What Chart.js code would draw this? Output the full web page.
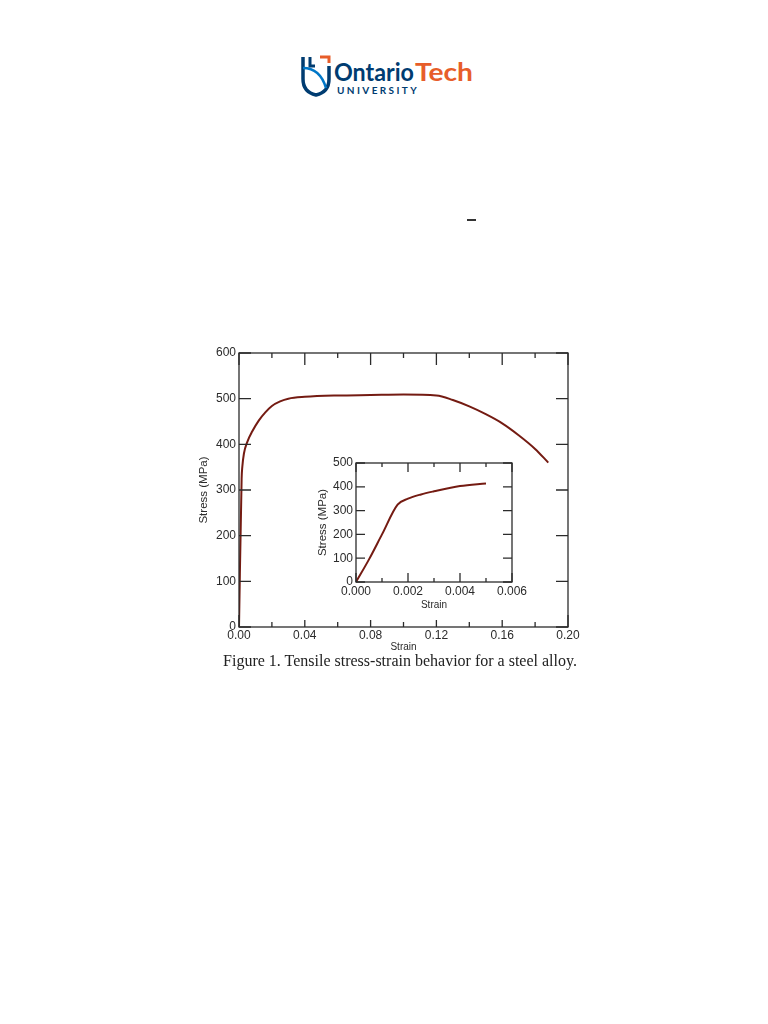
<!DOCTYPE html>
<html>
<head>
<meta charset="utf-8">
<script src="https://cdn.jsdelivr.net/npm/chart.js@4"></script>
<style>
  body { margin: 0; width: 768px; height: 1024px; background: #fff; position: relative; overflow: hidden; }
  .abs { position: absolute; }
  #logo { left: 300px; top: 54px; width: 180px; height: 44px; }
  #dash { left: 467px; top: 219px; width: 9px; height: 2px; background: #333; }
  #main { left: 190px; top: 340px; width: 400px; height: 320px; }
  #inset { left: 300px; top: 450px; width: 230px; height: 170px; background: #fff; }
  #caption { left: 16px; width: 768px; top: 652px; text-align: center;
    font-family: "Liberation Serif", serif; font-size: 16px; color: #222; }
</style>
</head>
<body>
<svg id="logo" class="abs" viewBox="0 0 180 44">
  <path d="M3 3 V25 Q3 38 16 41 Q29 38 29 25 V12" fill="none" stroke="#003c71" stroke-width="3.5"/>
  <path d="M3 14 Q20 14 26 34" fill="none" stroke="#0077c8" stroke-width="2.5"/>
  <path d="M10 3 V12 H15" fill="none" stroke="#003c71" stroke-width="3"/>
  <path d="M20 3 H29 V9" fill="none" stroke="#e75d2a" stroke-width="3"/>
  <text x="34" y="27" font-family="Lato, 'Open Sans', sans-serif" font-weight="bold" font-size="24" fill="#003c71" textLength="80" lengthAdjust="spacingAndGlyphs">Ontario</text>
  <text x="115" y="27" font-family="Lato, 'Open Sans', sans-serif" font-weight="bold" font-size="24" fill="#e75d2a" textLength="58" lengthAdjust="spacingAndGlyphs">Tech</text>
  <text x="37" y="40" font-family="Lato, 'Open Sans', sans-serif" font-weight="bold" font-size="10" fill="#003c71" letter-spacing="2.4">UNIVERSITY</text>
</svg>
<div id="dash" class="abs"></div>
<div class="abs" id="main"><canvas id="mainChart" width="400" height="320"></canvas></div>
<div class="abs" id="inset"><canvas id="insetChart" width="230" height="170"></canvas></div>
<div id="caption" class="abs">Figure 1. Tensile stress-strain behavior for a steel alloy.</div>

<script>
// main curve (strain, stress in MPa)
const mainStrain = [0, 0.0016, 0.002, 0.003, 0.005, 0.008, 0.012, 0.016, 0.02, 0.025, 0.03, 0.04, 0.06, 0.08, 0.10, 0.12, 0.13, 0.14, 0.15, 0.16, 0.17, 0.18, 0.188];
const mainStress = [0, 325, 350, 380, 405, 428, 452, 470, 484, 494, 500, 504, 507, 508, 509, 507, 497, 483, 466, 446, 420, 390, 360];
// inset curve
const insetStrain = [0, 0.0005, 0.001, 0.0016, 0.002, 0.0025, 0.003, 0.004, 0.005];
const insetStress = [0, 95, 200, 325, 350, 368, 381, 403, 414];
// tick labels shown
const mainXLabels = ["0.00", "0.04", "0.08", "0.12", "0.16", "0.20"];
const mainYLabels = ["0", "100", "200", "300", "400", "500", "600"];
const insetXLabels = ["0.000", "0.002", "0.004", "0.006"];
const insetYLabels = ["0", "100", "200", "300", "400", "500"];

const ink = "#2b2b2b";
const lineColor = "#741b12";
const fam = "Liberation Sans, Arial, sans-serif";

// frame + inward ticks on all four sides
const frameTicks = {
  id: "frameTicks",
  afterDraw(chart, args, opts) {
    const { ctx, chartArea: a, scales } = chart;
    ctx.save();
    ctx.strokeStyle = ink;
    ctx.lineWidth = 1.3;
    ctx.strokeRect(a.left, a.top, a.right - a.left, a.bottom - a.top);
    scales.x.ticks.forEach(t => {
      const px = scales.x.getPixelForValue(t.value);
      const len = t.label !== "" ? opts.long : opts.short;
      ctx.beginPath();
      ctx.moveTo(px, a.bottom); ctx.lineTo(px, a.bottom - len);
      ctx.moveTo(px, a.top); ctx.lineTo(px, a.top + len);
      ctx.stroke();
    });
    scales.y.ticks.forEach(t => {
      const py = scales.y.getPixelForValue(t.value);
      const len = t.label !== "" ? opts.long : opts.short;
      ctx.beginPath();
      ctx.moveTo(a.left, py); ctx.lineTo(a.left + len, py);
      ctx.moveTo(a.right, py); ctx.lineTo(a.right - len, py);
      ctx.stroke();
    });
    ctx.restore();
  }
};

function makeChart(id, xs, ys, cfg) {
  const pts = xs.map((x, i) => ({ x: x, y: ys[i] }));
  return new Chart(document.getElementById(id), {
    type: "scatter",
    data: {
      datasets: [{
        data: pts,
        showLine: true,
        borderColor: lineColor,
        borderWidth: 2,
        pointRadius: 0,
        cubicInterpolationMode: "monotone"
      }]
    },
    options: {
      responsive: false,
      animation: false,
      events: [],
      layout: { padding: cfg.padding },
      plugins: {
        legend: { display: false },
        tooltip: { enabled: false },
        frameTicks: cfg.tickLen
      },
      scales: {
        x: {
          type: "linear", min: cfg.xMin, max: cfg.xMax,
          grid: { display: false, drawTicks: false, tickLength: 0 }, border: { display: false },
          afterFit: s => { s.height = cfg.xHeight; },
          ticks: {
            stepSize: cfg.xStep, color: ink, font: { family: fam, size: 12 }, padding: cfg.xPad, maxRotation: 0,
            autoSkip: false,
            callback: v => {
              const s = v.toFixed(cfg.xDigits);
              return cfg.xLabels.includes(s) ? s : "";
            }
          },
          title: { display: true, text: "Strain", color: ink, padding: { top: 0, bottom: cfg.xTitlePad },
            font: { family: fam, size: 10 } }
        },
        y: {
          type: "linear", min: cfg.yMin, max: cfg.yMax,
          grid: { display: false, drawTicks: false, tickLength: 0 }, border: { display: false },
          afterFit: s => { s.width = cfg.yWidth; },
          ticks: {
            stepSize: cfg.yStep, color: ink, font: { family: fam, size: 12 }, padding: 3,
            callback: v => cfg.yLabels.includes(String(v)) ? String(v) : ""
          },
          title: { display: true, text: "Stress (MPa)", color: ink, padding: { top: 0, bottom: 0 },
            font: { family: fam, size: 11.5 } }
        }
      }
    },
    plugins: [frameTicks]
  });
}

makeChart("mainChart", mainStrain, mainStress, {
  padding: { left: 7, right: 22, top: 13, bottom: 0 },
  xMin: 0, xMax: 0.2, xStep: 0.02, xDigits: 2, xLabels: mainXLabels, xHeight: 33, xPad: 1, xTitlePad: 7,
  yMin: 0, yMax: 600, yStep: 100, yLabels: mainYLabels, yWidth: 42,
  tickLen: { long: 12, short: 5 }
});

makeChart("insetChart", insetStrain, insetStress, {
  padding: { left: 16, right: 18, top: 13, bottom: 0 },
  xMin: 0, xMax: 0.006, xStep: 0.001, xDigits: 3, xLabels: insetXLabels, xHeight: 38, xPad: 2, xTitlePad: 9,
  yMin: 0, yMax: 500, yStep: 100, yLabels: insetYLabels, yWidth: 40,
  tickLen: { long: 9, short: 4 }
});
</script>
</body>
</html>
